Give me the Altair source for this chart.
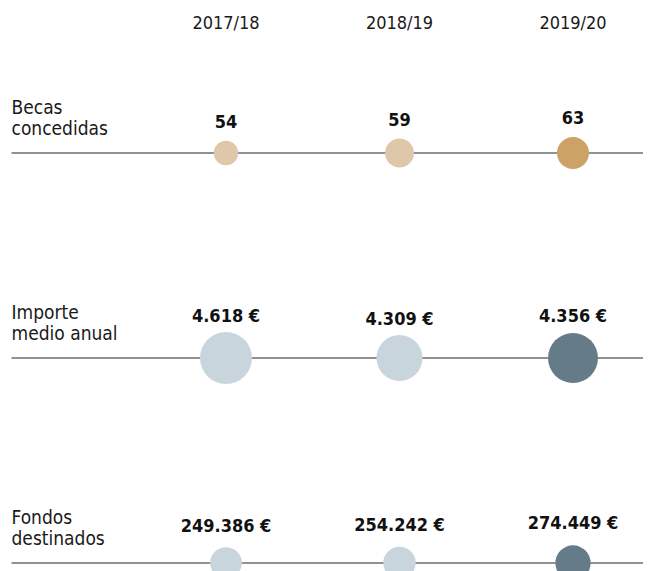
import altair as alt
import pandas as pd

# ---- data ----
years = ["2017/18", "2018/19", "2019/20"]
row_names = ["Becas\nconcedidas", "Importe\nmedio anual", "Fondos\ndestinados"]
becas = [54, 59, 63]
importe = [4618, 4309, 4356]
fondos = [249386, 254242, 274449]

FONT = "DejaVu Sans Condensed, Roboto Condensed, Liberation Sans Narrow, sans-serif"


def fmt(v, euro):
    s = f"{v:,}".replace(",", ".")
    return s + " €" if euro else s


series = [becas, importe, fondos]
records = []
for r, vals in enumerate(series):
    for i, v in enumerate(vals):
        records.append({"row": r, "yi": i, "value": v, "label": fmt(v, r > 0)})
df = pd.DataFrame(records)
df_rows = pd.DataFrame({"row": [0, 1, 2], "name": row_names})
df_years = pd.DataFrame({"yi": [0, 1, 2], "year": years})

LINE_Y = [145, 350, 555]
xs = alt.Scale(domain=[0, 2], range=[218, 565])
ys = alt.Scale(domain=[0, 2], range=[LINE_Y[0], LINE_Y[2]])
X = alt.X("yi:Q", scale=xs, axis=None)
Y = alt.Y("row:Q", scale=ys, axis=None)

rules = alt.Chart(df_rows).mark_rule(color="#6e6e6e", strokeWidth=1.5).encode(
    x=alt.value(3.5), x2=alt.value(635), y=Y
)

row_labels = alt.Chart(df_rows).mark_text(
    align="left", baseline="alphabetic", dy=-39, lineBreak="\n", lineHeight=21,
    font=FONT, fontSize=19, color="#1a1a1a"
).encode(x=alt.value(3.5), y=Y, text="name:N")

headers = alt.Chart(df_years).mark_text(
    align="center", baseline="alphabetic", font=FONT, fontSize=18, color="#1a1a1a"
).encode(x=X, y=alt.value(21), text="year:N")

size_specs = [
    ([54, 63], [600, 1024]),
    ([4309, 4356, 4618], [2116, 2500, 2704]),
    ([249386, 274449], [1005, 1246]),
]
# label baseline distance above each row's line
off_specs = [
    ([54, 63], [24.7, 29]),
    ([4309, 4356, 4618], [33, 36.3, 36.3]),
    ([249386, 274449], [31, 34.3]),
]
palettes = [
    ["#DFC7A9", "#DFC7A9", "#CDA266"],
    ["#C9D5DC", "#C9D5DC", "#657B88"],
    ["#C9D5DC", "#C9D5DC", "#657B88"],
]

row_layers = []
base = alt.Chart(df)
for r in range(3):
    circ = base.mark_circle(opacity=1).encode(
        x=X, y=Y,
        size=alt.Size("value:Q", scale=alt.Scale(domain=size_specs[r][0], range=size_specs[r][1]), legend=None),
        color=alt.Color("yi:O", scale=alt.Scale(domain=[0, 1, 2], range=palettes[r]), legend=None),
    ).transform_filter(alt.datum.row == r)
    txt = base.mark_text(
        align="center", baseline="alphabetic", font=FONT, fontSize=18, fontWeight="bold", color="#111111"
    ).encode(
        x=X,
        y=alt.Y("value:Q", axis=None,
                scale=alt.Scale(domain=off_specs[r][0], range=[LINE_Y[r] - o for o in off_specs[r][1]])),
        text="label:N",
    ).transform_filter(alt.datum.row == r)
    row_layers += [circ, txt]

chart = alt.layer(rules, row_labels, headers, *row_layers).resolve_scale(
    y="independent", size="independent", color="independent"
).properties(
    width=635, height=563, autosize=alt.AutoSizeParams(type="none"), padding=0
).configure_view(stroke=None)

chart.save("out.html", embed_options={"renderer": "svg", "actions": False})
